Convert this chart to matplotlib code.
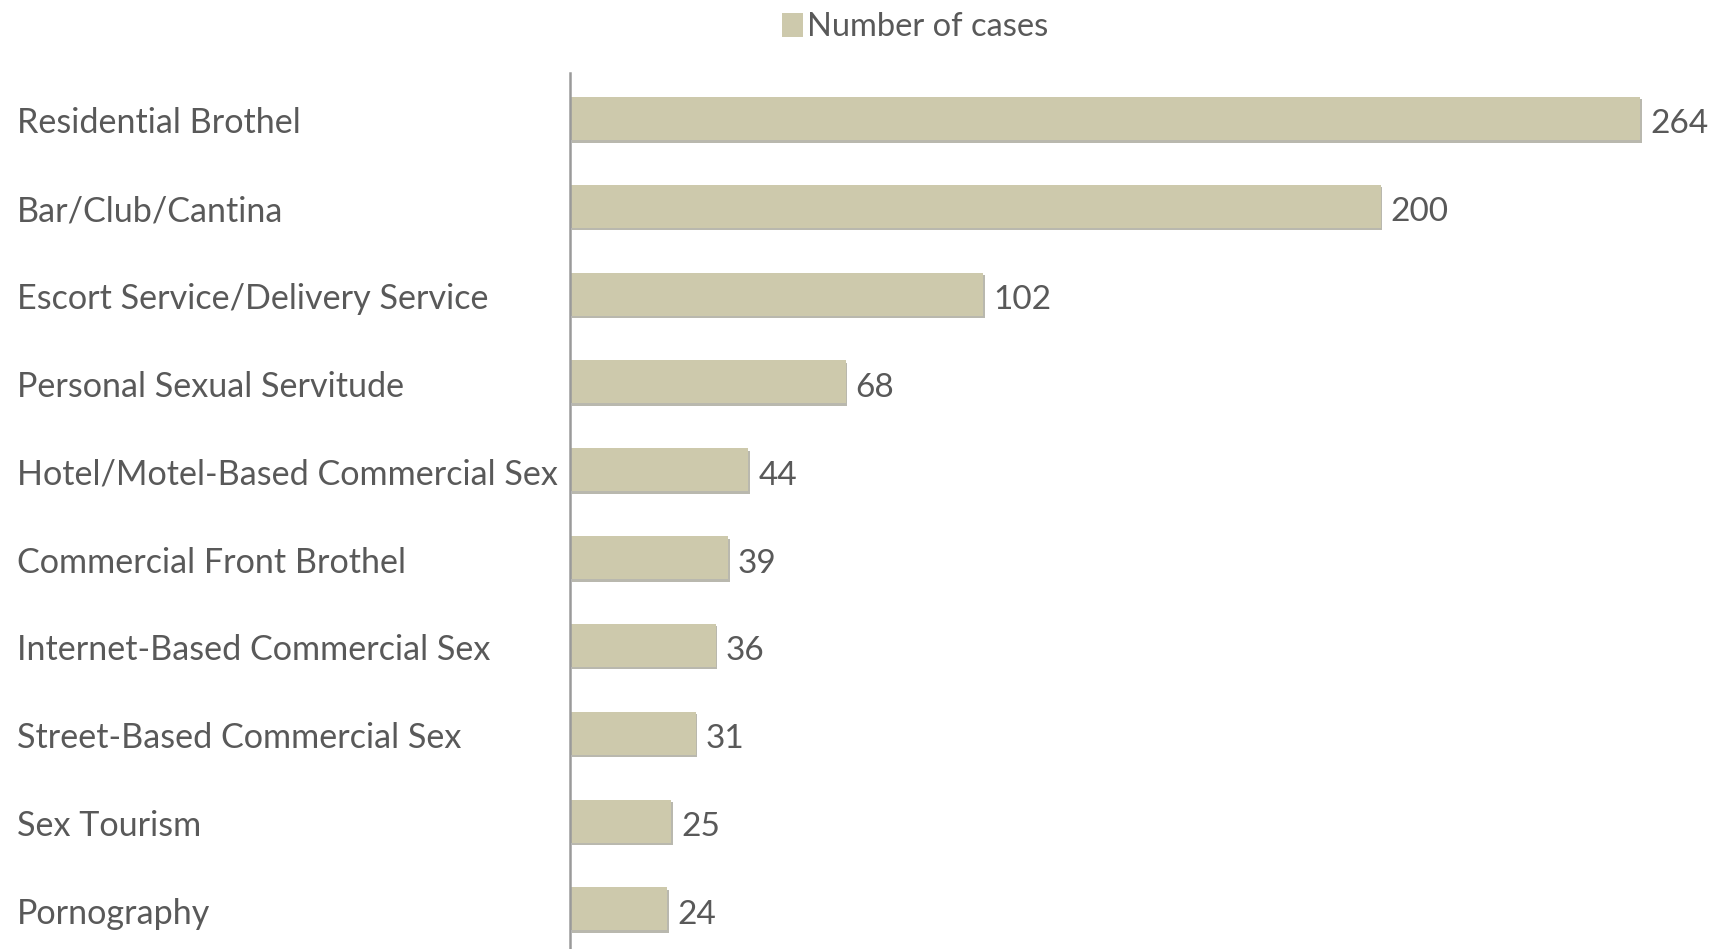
import matplotlib
matplotlib.use("Agg")
import matplotlib.pyplot as plt
from matplotlib import transforms
from matplotlib.patches import Patch

categories = [
    "Residential Brothel",
    "Bar/Club/Cantina",
    "Escort Service/Delivery Service",
    "Personal Sexual Servitude",
    "Hotel/Motel-Based Commercial Sex",
    "Commercial Front Brothel",
    "Internet-Based Commercial Sex",
    "Street-Based Commercial Sex",
    "Sex Tourism",
    "Pornography",
]
values = [264, 200, 102, 68, 44, 39, 36, 31, 25, 24]
series_name = "Number of cases"

BAR = "#CDC9AC"
SHADOW = "#B9B8AE"
TEXT = "#595959"
FONT = "Lato"

W, H = 1719, 949
fig = plt.figure(figsize=(W / 100, H / 100), dpi=100)
ax_left, ax_top = 570, 73
ax = fig.add_axes([ax_left / W, 0, (W - ax_left) / W, (H - ax_top) / H])

px_per_unit = (1640 - ax_left) / 264
ax.set_xlim(0, (W - ax_left) / px_per_unit)
ypos = list(range(len(categories)))
ax.set_ylim(len(categories) - 1 + 0.456, -0.518)

shadow_tr = transforms.offset_copy(ax.transData, fig=fig, x=1.5, y=-2.5, units="dots")
ax.barh(ypos, values, height=0.49, color=SHADOW, transform=shadow_tr, zorder=1)
ax.barh(ypos, values, height=0.49, color=BAR, zorder=2)

for y, v in zip(ypos, values):
    ax.annotate(str(v), (v, y), xytext=(10, -3), textcoords="offset pixels",
                ha="left", va="center_baseline", fontsize=24, color=TEXT, family=FONT)

lab_tr = transforms.blended_transform_factory(fig.transFigure, ax.transData)
for y, c in zip(ypos, categories):
    ax.annotate(c, (17 / W, y), xycoords=lab_tr, xytext=(0, -2), textcoords="offset pixels",
                ha="left", va="center_baseline",
                fontsize=24.6, color=TEXT, family=FONT, annotation_clip=False)

for s in ["top", "right", "bottom"]:
    ax.spines[s].set_visible(False)
ax.spines["left"].set_color("#9A9A9A")
ax.spines["left"].set_linewidth(1.8)
ax.set_xticks([])
ax.set_yticks([])

fig.legend(handles=[Patch(facecolor=BAR, edgecolor="none", label=series_name)],
           loc="center", bbox_to_anchor=(915 / W, 1 - 27 / H), frameon=False,
           handlelength=0.65, handleheight=0.75, handletextpad=0.1, borderpad=0,
           prop={"family": FONT, "size": 23.5}, labelcolor=TEXT)

fig.savefig("out.png", dpi=100)
